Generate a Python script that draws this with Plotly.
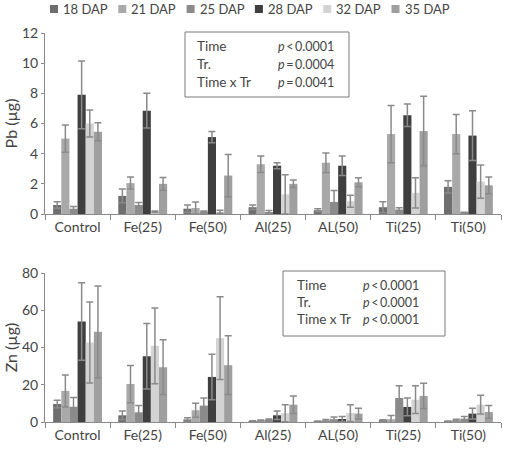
import plotly.graph_objects as go

categories = ["Control", "Fe(25)", "Fe(50)", "Al(25)", "AL(50)", "Ti(25)", "Ti(50)"]
series = ["18 DAP", "21 DAP", "25 DAP", "28 DAP", "32 DAP", "35 DAP"]
colors = ["#6e6e6e", "#a9a9a9", "#8b8b8b", "#3f3f3f", "#d3d3d3", "#9f9f9f"]

pb_18 = [0.6, 1.2, 0.35, 0.45, 0.25, 0.45, 1.8]
pb_18_err = [0.22, 0.45, 0.25, 0.15, 0.1, 0.37, 0.4]
pb_21 = [5.0, 2.05, 0.4, 3.3, 3.4, 5.3, 5.3]
pb_21_err = [0.9, 0.4, 0.4, 0.55, 0.65, 1.9, 1.3]
pb_25 = [0.35, 0.6, 0.15, 0.13, 0.8, 0.3, 0.08]
pb_25_err = [0.15, 0.17, 0.05, 0.1, 0.75, 0.12, 0.03]
pb_28 = [7.9, 6.85, 5.1, 3.2, 3.2, 6.55, 5.2]
pb_28_err = [2.25, 1.15, 0.37, 0.2, 0.65, 0.75, 1.65]
pb_32 = [6.0, 0.15, 0.15, 1.3, 0.85, 1.4, 2.15]
pb_32_err = [0.9, 0.05, 0.1, 1.3, 0.4, 1.0, 1.1]
pb_35 = [5.45, 2.0, 2.55, 2.0, 2.1, 5.5, 1.9]
pb_35_err = [0.6, 0.42, 1.4, 0.25, 0.3, 2.3, 0.55]

zn_18 = [9.7, 3.6, 1.4, 0.5, 0.3, 0.8, 0.3]
zn_18_err = [2.0, 2.3, 0.9, 0.2, 0.2, 0.4, 0.2]
zn_21 = [16.7, 20.4, 6.3, 0.8, 0.8, 1.5, 1.0]
zn_21_err = [8.6, 10.0, 3.8, 0.3, 0.6, 2.0, 0.5]
zn_25 = [8.2, 5.2, 8.8, 1.2, 1.5, 12.9, 1.8]
zn_25_err = [4.9, 3.6, 4.1, 0.4, 1.2, 6.5, 1.2]
zn_28 = [54.0, 35.3, 24.2, 3.6, 1.6, 8.1, 4.5]
zn_28_err = [20.8, 17.6, 12.2, 2.3, 1.4, 4.8, 2.9]
zn_32 = [42.7, 40.9, 45.0, 4.7, 4.8, 12.0, 9.3]
zn_32_err = [21.8, 20.3, 22.2, 4.6, 4.5, 7.5, 5.0]
zn_35 = [48.4, 29.4, 30.5, 9.3, 4.5, 14.0, 5.4]
zn_35_err = [24.6, 14.7, 15.8, 4.7, 2.9, 6.8, 3.4]

pb_vals = [pb_18, pb_21, pb_25, pb_28, pb_32, pb_35]
pb_errs = [pb_18_err, pb_21_err, pb_25_err, pb_28_err, pb_32_err, pb_35_err]
zn_vals = [zn_18, zn_21, zn_25, zn_28, zn_32, zn_35]
zn_errs = [zn_18_err, zn_21_err, zn_25_err, zn_28_err, zn_32_err, zn_35_err]

TS = "\u2009"
pb_stats = [("Time", f"<i>p</i>{TS}<{TS}0.0001"), ("Tr.", f"<i>p</i>{TS}={TS}0.0004"),
            ("Time x Tr", f"<i>p</i>{TS}={TS}0.0041")]
zn_stats = [("Time", f"<i>p</i>{TS}<{TS}0.0001"), ("Tr.", f"<i>p</i>{TS}<{TS}0.0001"),
            ("Time x Tr", f"<i>p</i>{TS}<{TS}0.0001")]

FONT = "Lato, 'Open Sans', sans-serif"
TXT = "#444444"
AX = "#8a8a8a"

fig = go.Figure()
for name, col, v, e in zip(series, colors, pb_vals, pb_errs):
    fig.add_trace(go.Bar(x=categories, y=v, name=name, marker=dict(color=col, line=dict(width=0)),
                         error_y=dict(type="data", array=e, color="#8a8a8a", thickness=1.5, width=3.5),
                         xaxis="x", yaxis="y", showlegend=False))
for name, col, v, e in zip(series, colors, zn_vals, zn_errs):
    fig.add_trace(go.Bar(x=categories, y=v, name=name, marker=dict(color=col, line=dict(width=0)),
                         error_y=dict(type="data", array=e, color="#8a8a8a", thickness=1.5, width=3.5),
                         xaxis="x2", yaxis="y2", showlegend=False))

xax = dict(showline=True, linecolor=AX, linewidth=1, ticks="outside", tickson="boundaries",
           ticklen=5, tickcolor=AX, showgrid=False, automargin=False,
           tickfont=dict(size=14, color=TXT, family=FONT))
yax = dict(showline=True, linecolor=AX, linewidth=1, ticks="outside", ticklen=3, tickcolor=AX,
           showgrid=False, zeroline=False, automargin=False,
           tickfont=dict(size=14, color=TXT, family=FONT))

fig.update_layout(
    width=510, height=449,
    margin=dict(l=45, r=9, t=33, b=27),
    paper_bgcolor="white", plot_bgcolor="white",
    barmode="group", bargap=0.25, bargroupgap=0,
    font=dict(family=FONT, color=TXT, size=13),
    xaxis=dict(**xax, domain=[0, 1], anchor="y"),
    yaxis=dict(**yax, domain=[0.5347, 1], anchor="x", range=[0, 12], dtick=2,
               title=dict(text="Pb (µg)", font=dict(size=16, color=TXT, family=FONT), standoff=0)),
    xaxis2=dict(**xax, domain=[0, 1], anchor="y2"),
    yaxis2=dict(**yax, domain=[0, 0.383], anchor="x2", range=[0, 80], dtick=20,
                title=dict(text="Zn (µg)", font=dict(size=16, color=TXT, family=FONT), standoff=0)),
)

# legend: small squares + labels
for i, (name, col) in enumerate(zip(series, colors)):
    sx = 50 + 68.3 * i
    fig.add_shape(type="rect", xref="paper", yref="paper",
                  x0=(sx - 45) / 456, x1=(sx + 8 - 45) / 456,
                  y0=(422 - 13) / 389, y1=(422 - 5) / 389,
                  line=dict(width=0), fillcolor=col)
    fig.add_annotation(xref="paper", yref="paper", x=(sx + 11 - 45) / 456, y=(422 - 9) / 389,
                       xanchor="left", yanchor="middle", showarrow=False, text=name,
                       font=dict(size=13, color=TXT, family=FONT))

def stats_box(stats, x0, x1, y0, y1, lx, px, rows):
    fig.add_shape(type="rect", xref="paper", yref="paper",
                  x0=(x0 - 45) / 456, x1=(x1 - 45) / 456,
                  y0=(422 - y0) / 389, y1=(422 - y1) / 389,
                  line=dict(color="#7a7a7a", width=1), fillcolor="white")
    for (lab, p), ry in zip(stats, rows):
        fig.add_annotation(xref="paper", yref="paper", x=(lx - 45) / 456, y=(422 - ry) / 389,
                           xanchor="left", yanchor="middle", showarrow=False, text=lab,
                           font=dict(size=13.5, color=TXT, family=FONT))
        fig.add_annotation(xref="paper", yref="paper", x=(px - 45) / 456, y=(422 - ry) / 389,
                           xanchor="left", yanchor="middle", showarrow=False, text=p,
                           font=dict(size=12.5, color=TXT, family=FONT))

stats_box(pb_stats, 185, 349, 32, 97, 195, 276, [46, 64, 82])
stats_box(zn_stats, 283, 445, 271, 336, 295, 361, [285, 302, 319])

fig.write_html("out.html", config={"displayModeBar": False},
               post_script="document.body.style.margin='0';")
